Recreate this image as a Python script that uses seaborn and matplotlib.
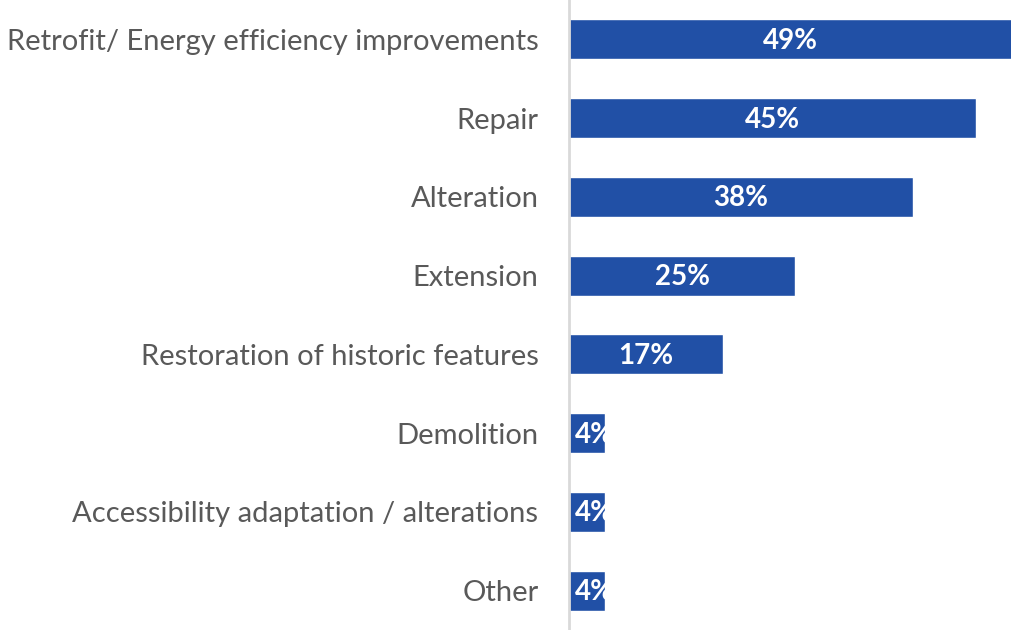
import matplotlib
matplotlib.use("Agg")
import matplotlib.pyplot as plt
import seaborn as sns
import pandas as pd

# Data
categories = ["Retrofit/ Energy efficiency improvements", "Repair", "Alteration",
              "Extension", "Restoration of historic features", "Demolition",
              "Accessibility adaptation / alterations", "Other"]
shares = [49, 45, 38, 25, 17, 4, 4, 4]

df = pd.DataFrame({"Category": categories, "Share": shares})

sns.set_style("white")
plt.rcParams['font.family'] = ['Lato', 'DejaVu Sans']

fig = plt.figure(figsize=(10.12, 6.3), dpi=100)
ax = fig.add_axes([0.5623, 0.0, 0.4377, 1.0])

sns.barplot(data=df, x="Share", y="Category", color="#2150A6", width=0.51,
            saturation=1, ax=ax)

ax.set_xlim(0, 49)
ax.set_ylim(len(categories) - 0.5, -0.5)
ax.set_xlabel("")
ax.set_ylabel("")
ax.set_xticks([])
ax.tick_params(axis="y", length=0, pad=22, labelsize=21, labelcolor="#595959")

for side in ["top", "right", "bottom"]:
    ax.spines[side].set_visible(False)
ax.spines["left"].set_color("#D9D9D9")
ax.spines["left"].set_linewidth(2)

# value labels centred in the bars, clipped to the bar like the original
for bar, val in zip(ax.patches, shares):
    cx = bar.get_x() + bar.get_width() / 2
    cy = bar.get_y() + bar.get_height() / 2
    if val < 10:
        cx = bar.get_x() + 0.6
        ha = "left"
    else:
        ha = "center"
    t = ax.text(cx, cy + 0.02, f"{val}%", ha=ha, va="center", color="white",
                fontsize=20, fontweight="bold")
    t.set_clip_path(bar)

fig.savefig("out.png", dpi=100)
